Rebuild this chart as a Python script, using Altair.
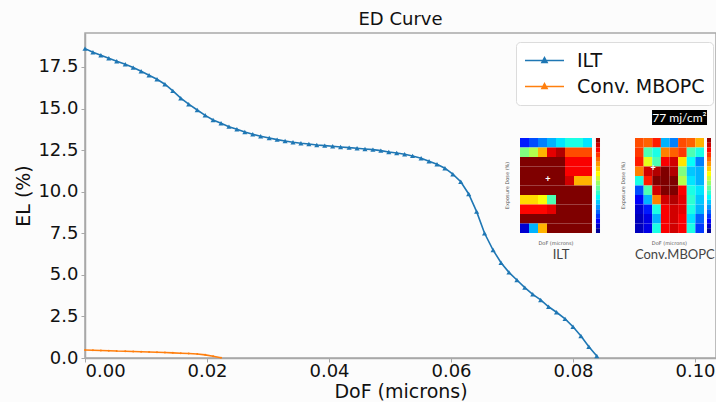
import altair as alt
import pandas as pd

# ---------------- data ----------------
chart_title = "ED Curve"
series_names = ["ILT", "Conv. MBOPC"]
series_colors = ["#1f77b4", "#ff7f0e"]

ilt_dof = [0.0000, 0.0013, 0.0026, 0.0039, 0.0052, 0.0066, 0.0079, 0.0092, 0.0105, 0.0118,
           0.0131, 0.0144, 0.0157, 0.0170, 0.0184, 0.0197, 0.0210, 0.0223, 0.0236, 0.0249,
           0.0262, 0.0275, 0.0288, 0.0302, 0.0315, 0.0328, 0.0341, 0.0354, 0.0367, 0.0380,
           0.0393, 0.0406, 0.0419, 0.0433, 0.0446, 0.0459, 0.0472, 0.0485, 0.0498, 0.0511,
           0.0524, 0.0537, 0.0551, 0.0564, 0.0577, 0.0590, 0.0603, 0.0616, 0.0629, 0.0642,
           0.0655, 0.0669, 0.0682, 0.0695, 0.0708, 0.0721, 0.0734, 0.0747, 0.0760, 0.0773,
           0.0787, 0.0800, 0.0813, 0.0826, 0.0839]
ilt_el = [18.60, 18.38, 18.20, 18.02, 17.84, 17.66, 17.46, 17.24, 17.00, 16.76,
          16.46, 16.06, 15.62, 15.26, 14.91, 14.59, 14.31, 14.11, 13.91, 13.75,
          13.59, 13.45, 13.33, 13.23, 13.13, 13.05, 12.97, 12.91, 12.87, 12.81,
          12.77, 12.73, 12.69, 12.65, 12.61, 12.57, 12.53, 12.47, 12.39, 12.33,
          12.25, 12.15, 12.01, 11.83, 11.65, 11.41, 11.05, 10.60, 9.86, 8.80,
          7.50, 6.49, 5.73, 5.15, 4.69, 4.23, 3.83, 3.49, 3.08, 2.75,
          2.35, 1.88, 1.32, 0.68, 0.12]

conv_dof = [0.0000, 0.0013, 0.0026, 0.0039, 0.0052, 0.0066, 0.0079, 0.0092, 0.0105, 0.0118,
            0.0131, 0.0144, 0.0157, 0.0170, 0.0184, 0.0197, 0.0210, 0.0223]
conv_el = [0.48, 0.47, 0.45, 0.44, 0.42, 0.41, 0.39, 0.38, 0.36, 0.35,
           0.33, 0.31, 0.29, 0.27, 0.24, 0.19, 0.11, 0.01]

x_ticks = [0.0, 0.02, 0.04, 0.06, 0.08, 0.10]
y_ticks = [0.0, 2.5, 5.0, 7.5, 10.0, 12.5, 15.0, 17.5]

# inset process-window maps (0 = low, 1 = high; jet colours)
ilt_map = [
    [0.15, 0.20, 0.25, 0.30, 0.35, 0.40, 0.40, 0.35],
    [0.50, 0.55, 0.70, 0.90, 0.95, 0.80, 0.80, 0.80],
    [1.00, 1.00, 1.00, 1.00, 1.00, 0.88, 0.88, 0.88],
    [1.00, 1.00, 1.00, 1.00, 1.00, 0.88, 0.88, 0.88],
    [1.00, 1.00, 1.00, 1.00, 1.00, 0.92, 0.70, 0.70],
    [1.00, 1.00, 1.00, 1.00, 1.00, 1.00, 1.00, 1.00],
    [0.66, 0.66, 0.62, 0.45, 1.00, 1.00, 1.00, 1.00],
    [0.87, 0.87, 0.87, 0.90, 1.00, 1.00, 1.00, 1.00],
    [1.00, 1.00, 1.00, 1.00, 1.00, 1.00, 1.00, 1.00],
    [0.08, 0.30, 0.70, 1.00, 1.00, 1.00, 1.00, 1.00],
]
conv_map = [
    [0.80, 0.78, 0.85, 0.30, 0.25, 0.80, 0.78, 0.70],
    [0.82, 0.45, 0.40, 0.75, 0.78, 0.82, 0.45, 0.40],
    [0.85, 0.60, 0.45, 0.88, 0.92, 0.65, 0.38, 0.25],
    [0.75, 0.92, 0.95, 1.00, 0.95, 0.50, 0.32, 0.30],
    [0.40, 0.85, 1.00, 1.00, 1.00, 0.55, 0.35, 0.30],
    [0.20, 0.45, 0.92, 1.00, 1.00, 0.88, 0.40, 0.35],
    [0.12, 0.30, 0.75, 0.92, 0.95, 0.90, 0.42, 0.32],
    [0.08, 0.15, 0.40, 0.88, 0.92, 0.90, 0.40, 0.30],
    [0.06, 0.10, 0.30, 0.88, 0.92, 0.88, 0.35, 0.22],
    [0.06, 0.10, 0.40, 0.88, 0.92, 0.88, 0.40, 0.18],
]
inset_labels = ["ILT", "Conv.MBOPC"]
dose_label = "77 mj/cm²"

# ---------------- layout constants ----------------
W, H = 631, 325
X_MAX = 0.10344
Y_MAX = 19.54

# ---------------- main curves ----------------
df_main = pd.concat([
    pd.DataFrame({"dof": ilt_dof, "el": ilt_el, "series": "ILT"}),
    pd.DataFrame({"dof": conv_dof, "el": conv_el, "series": "Conv. MBOPC"}),
])

# legend symbol: a line with a small triangle, drawn wider than its nominal size
legend_path = "M-2,0H2M0,-0.3L0.27,0.2L-0.27,0.2Z"

x_enc = alt.X("dof:Q",
              scale=alt.Scale(domain=[0, X_MAX], nice=False, zero=False),
              axis=alt.Axis(values=x_ticks, format=".2f", title="DoF (microns)"))
y_enc = alt.Y("el:Q",
              scale=alt.Scale(domain=[0, Y_MAX], nice=False, zero=False),
              axis=alt.Axis(values=y_ticks, format=".1f", title="EL (%)"))
color_enc = alt.Color(
    "series:N",
    scale=alt.Scale(domain=series_names, range=series_colors),
    legend=alt.Legend(
        title=None, orient="none", legendX=431, legendY=9,
        symbolType=legend_path, symbolSize=380, symbolStrokeWidth=1.5,
        symbolOffset=10,
        labelFontSize=19, labelFont="DejaVu Sans", labelColor="#111",
        padding=8, rowPadding=5, labelOffset=22,
        strokeColor="#dcdcdc", fillColor="#ffffff", cornerRadius=4,
    ),
)

base = alt.Chart(df_main).encode(x=x_enc, y=y_enc, color=color_enc)
lines = base.mark_line(strokeWidth=1.6)
pts_ilt = base.transform_filter(alt.datum.series == "ILT").mark_point(
    shape="triangle-up", filled=True, size=26, opacity=1)
pts_conv = base.transform_filter(alt.datum.series == "Conv. MBOPC").mark_point(
    shape="circle", filled=True, size=4, opacity=1)
main = alt.layer(lines, pts_ilt, pts_conv)

# ---------------- insets (own coordinate system) ----------------
U_DOM = [-435 / 9, -435 / 9 + W / 9]
V_DOM = [-105 / 9.5, -105 / 9.5 + H / 9.5]


def ux(field):
    return alt.X(field, type="quantitative",
                 scale=alt.Scale(domain=U_DOM, nice=False, zero=False), axis=None)


def vy(field):
    return alt.Y(field, type="quantitative",
                 scale=alt.Scale(domain=V_DOM, nice=False, zero=False, reverse=True), axis=None)


cells = []
for r, row in enumerate(ilt_map):
    for c, val in enumerate(row):
        cells.append({"u0": c, "u1": c + 1, "v0": r, "v1": r + 1, "val": val})
cw = 0.958
for r, row in enumerate(conv_map):
    for c, val in enumerate(row):
        cells.append({"u0": 12.78 + c * cw, "u1": 12.78 + (c + 1) * cw,
                      "v0": r, "v1": r + 1, "val": val})
nbar = 20
for k in range(nbar):
    val = 1 - (k + 0.5) / nbar
    cells.append({"u0": 8.44, "u1": 8.89, "v0": k * 10 / nbar, "v1": (k + 1) * 10 / nbar, "val": val})
    cells.append({"u0": 20.78, "u1": 21.22, "v0": k * 10 / nbar, "v1": (k + 1) * 10 / nbar, "val": val})
df_cells = pd.DataFrame(cells)

jet = alt.Scale(domain=[0, 0.125, 0.375, 0.625, 0.875, 1],
                range=["#00007f", "#0000ff", "#00ffff", "#ffff00", "#ff0000", "#7f0000"],
                interpolate="rgb")
heat = alt.Chart(df_cells).mark_rect(strokeWidth=0).encode(
    x=ux("u0"), x2="u1", y=vy("v0"), y2="v1",
    color=alt.Color("val:Q", scale=jet, legend=None))

# black dose box
df_box = pd.DataFrame([{"u0": 14.67, "u1": 20.78, "v0": -2.95, "v1": -1.37}])
box = alt.Chart(df_box).mark_rect(color="black").encode(
    x=ux("u0"), x2="u1", y=vy("v0"), y2="v1")
df_dose = pd.DataFrame([{"u": 17.72, "v": -2.1, "t": dose_label}])
dose_txt = alt.Chart(df_dose).mark_text(color="white", fontSize=12, font="Lato",
                                        align="center", baseline="middle").encode(
    x=ux("u"), y=vy("v"), text="t:N")

df_lab = pd.DataFrame([{"u": 4.56, "v": 12.3, "t": inset_labels[0]},
                       {"u": 17.2, "v": 12.3, "t": inset_labels[1]}])
lab_txt = alt.Chart(df_lab).mark_text(color="#444", fontSize=13, font="Lato",
                                      align="center", baseline="middle").encode(
    x=ux("u"), y=vy("v"), text="t:N")

df_small = pd.DataFrame([{"u": 4.0, "v": 11.0, "t": "DoF (microns)"},
                         {"u": 16.6, "v": 11.0, "t": "DoF (microns)"}])
small_txt = alt.Chart(df_small).mark_text(color="#555", fontSize=5, font="DejaVu Sans",
                                          align="center", baseline="middle").encode(
    x=ux("u"), y=vy("v"), text="t:N")
df_small_y = pd.DataFrame([{"u": -1.4, "v": 5.0, "t": "Exposure Dose (%)"},
                           {"u": 11.4, "v": 5.0, "t": "Exposure Dose (%)"}])
small_ytxt = alt.Chart(df_small_y).mark_text(color="#555", fontSize=5, font="DejaVu Sans",
                                             angle=270, align="center", baseline="middle").encode(
    x=ux("u"), y=vy("v"), text="t:N")

df_plus = pd.DataFrame([{"u": 3.1, "v": 4.3, "t": "+"}, {"u": 14.8, "v": 3.2, "t": "+"}])
plus_txt = alt.Chart(df_plus).mark_text(color="white", fontSize=9, fontWeight="bold",
                                        align="center", baseline="middle").encode(
    x=ux("u"), y=vy("v"), text="t:N")

chart = alt.layer(
    main, heat, box, dose_txt, lab_txt, small_txt, small_ytxt, plus_txt
).resolve_scale(
    x="independent", y="independent", color="independent"
).properties(
    width=W, height=H,
    title=alt.TitleParams(chart_title, fontSize=18, font="DejaVu Sans",
                          fontWeight="normal", color="#111", offset=4, anchor="middle"),
    autosize=alt.AutoSizeParams(type="none"),
    padding={"left": 85, "top": 33, "right": 0, "bottom": 44},
    background="#fcfcfc",
).configure_view(
    stroke="#a8a8a8", strokeWidth=1.5, fill="#fcfcfc"
).configure_axis(
    labelFont="DejaVu Sans", titleFont="DejaVu Sans",
    labelFontSize=18, titleFontSize=19, labelColor="#111", titleColor="#111",
    titleFontWeight="normal", domainColor="#a8a8a8", domainWidth=1.5,
    tickColor="#a8a8a8", tickSize=4, grid=False,
).configure_axisX(labelPadding=0, titlePadding=2).configure_axisY(labelPadding=3, titlePadding=4)

chart.save("out.html", embed_options={"renderer": "svg", "actions": False})
